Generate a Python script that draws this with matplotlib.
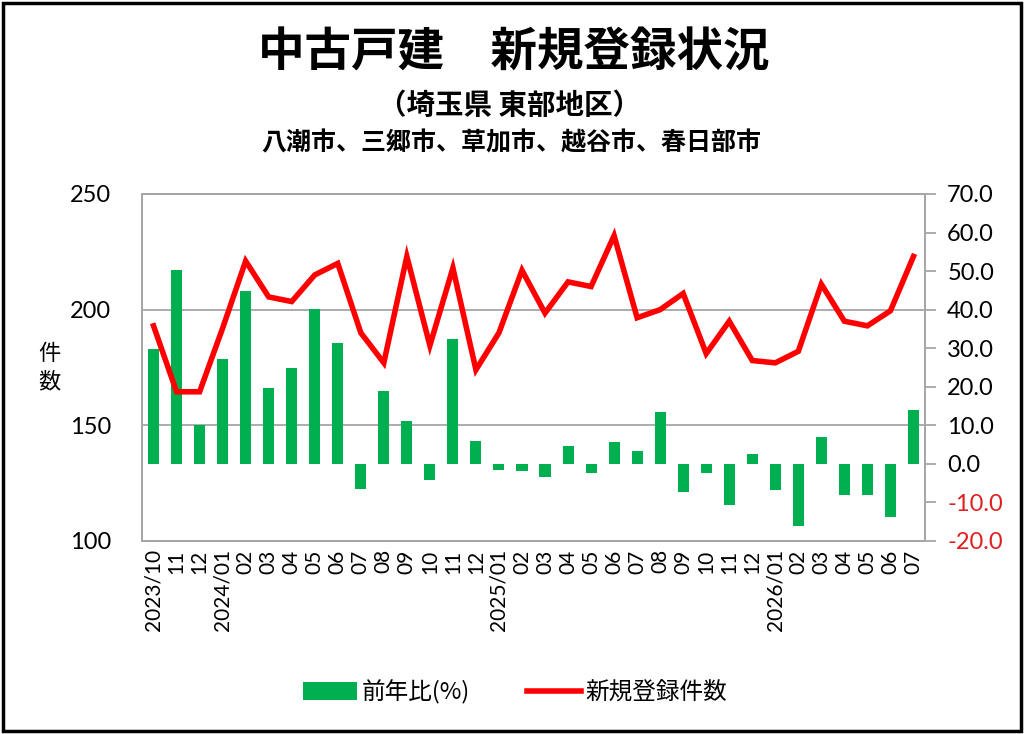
import matplotlib
matplotlib.use("Agg")
import matplotlib.pyplot as plt
from matplotlib.patches import Rectangle, Patch
from matplotlib.lines import Line2D

months = ["2023/10", "11", "12", "2024/01", "02", "03", "04", "05", "06", "07", "08", "09", "10", "11", "12",
          "2025/01", "02", "03", "04", "05", "06", "07", "08", "09", "10", "11", "12",
          "2026/01", "02", "03", "04", "05", "06", "07"]
counts = [193, 164.5, 164.5, 192, 221, 205.5, 203.5, 215, 220, 190, 177, 223, 184.5, 218, 174,
          190, 217, 198.5, 212, 210, 232, 196.5, 200, 207, 181, 195, 178,
          177, 182, 211, 195, 193, 199.5, 223]
yoy = [29.7, 50.4, 10.2, 27.3, 44.8, 19.6, 24.8, 40.1, 31.3, -6.5, 19.0, 11.2, -4.1, 32.3, 5.8,
       -1.7, -1.9, -3.3, 4.7, -2.3, 5.7, 3.4, 13.4, -7.3, -2.3, -10.6, 2.6,
       -6.9, -16.1, 7.0, -8.0, -8.2, -13.8, 14.0]
left_ticks = [100, 150, 200, 250]
right_ticks = [-20, -10, 0, 10, 20, 30, 40, 50, 60, 70]

JP = ["Noto Sans CJK JP", "DejaVu Sans"]
NUM = ["Lato", "DejaVu Sans"]
GREEN = "#00B050"
RED = "#FF0000"
GRAY = "#A6A6A6"

fig = plt.figure(figsize=(10.24, 7.34), dpi=100)
ax2 = fig.add_axes([0.1387, 0.263, 0.7646, 0.4727])
ax = ax2.twinx()
ax.yaxis.tick_left()
ax.yaxis.set_label_position("left")
ax2.yaxis.tick_right()
ax.set_zorder(ax2.get_zorder() + 1)
ax.patch.set_visible(False)

x = list(range(len(months)))
ax2.bar(x, yoy, width=0.48, color=GREEN, zorder=2)
ax.plot(x, counts, color=RED, lw=4.0, solid_joinstyle="miter", zorder=3)

ax.set_ylim(left_ticks[0], left_ticks[-1])
ax2.set_ylim(right_ticks[0], right_ticks[-1])
ax2.set_xlim(-0.5, len(months) - 0.5)

l0, l1 = left_ticks[0], left_ticks[-1]
r0, r1 = right_ticks[0], right_ticks[-1]
for v in left_ticks[1:-1]:
    rv = r0 + (v - l0) * (r1 - r0) / (l1 - l0)
    ax2.axhline(rv, color=GRAY, lw=1.3, zorder=1)

ax.set_yticks(left_ticks)
ax.set_yticklabels([str(v) for v in left_ticks], family=NUM, fontsize=17)
ax.tick_params(axis="y", length=0, pad=22)

ax2.set_yticks(right_ticks)
ax2.set_yticklabels([f"{v:.1f}" for v in right_ticks], family=NUM, fontsize=17)
ax2.tick_params(axis="y", length=8, width=1.3, color=GRAY, pad=8)
for lab, v in zip(ax2.get_yticklabels(), right_ticks):
    lab.set_color("#E02020" if v < 0 else "black")

ax2.set_xticks(x)
ax2.set_xticklabels(months, rotation=90, family=NUM, fontsize=15)
ax2.tick_params(axis="x", length=0, pad=6)

for a in (ax, ax2):
    for s in a.spines.values():
        s.set_color(GRAY)
        s.set_linewidth(1.3)

ax.set_ylabel("件\n数", family=JP, fontsize=16, rotation=0, labelpad=0, linespacing=1.3)
ax.yaxis.set_label_coords(-0.118, 0.5)
ax.yaxis.label.set_va("center")

fig.text(0.502, 0.928, "中古戸建　新規登録状況", family=JP, fontsize=33.5, fontweight="bold",
         ha="center", va="center")
fig.text(0.498, 0.856, "（埼玉県 東部地区）", family=JP, fontsize=20.5, fontweight="bold",
         ha="center", va="center")
fig.text(0.499, 0.805, "八潮市、三郷市、草加市、越谷市、春日部市", family=JP, fontsize=18, fontweight="bold",
         ha="center", va="center")

handles = [Patch(facecolor=GREEN, edgecolor="none"), Line2D([], [], color=RED, lw=4.0)]
fig.legend(handles, ["前年比(%)", "新規登録件数"], loc="center", bbox_to_anchor=(0.503, 0.057),
           ncol=2, frameon=False, prop={"family": JP, "size": 17}, handlelength=2.3,
           handleheight=0.8, columnspacing=2.4, handletextpad=0.2)

fig.patches.append(Rectangle((0.003, 0.004), 0.994, 0.992, transform=fig.transFigure,
                             fill=False, edgecolor="black", lw=2.5))

fig.savefig("out.png", dpi=100)
